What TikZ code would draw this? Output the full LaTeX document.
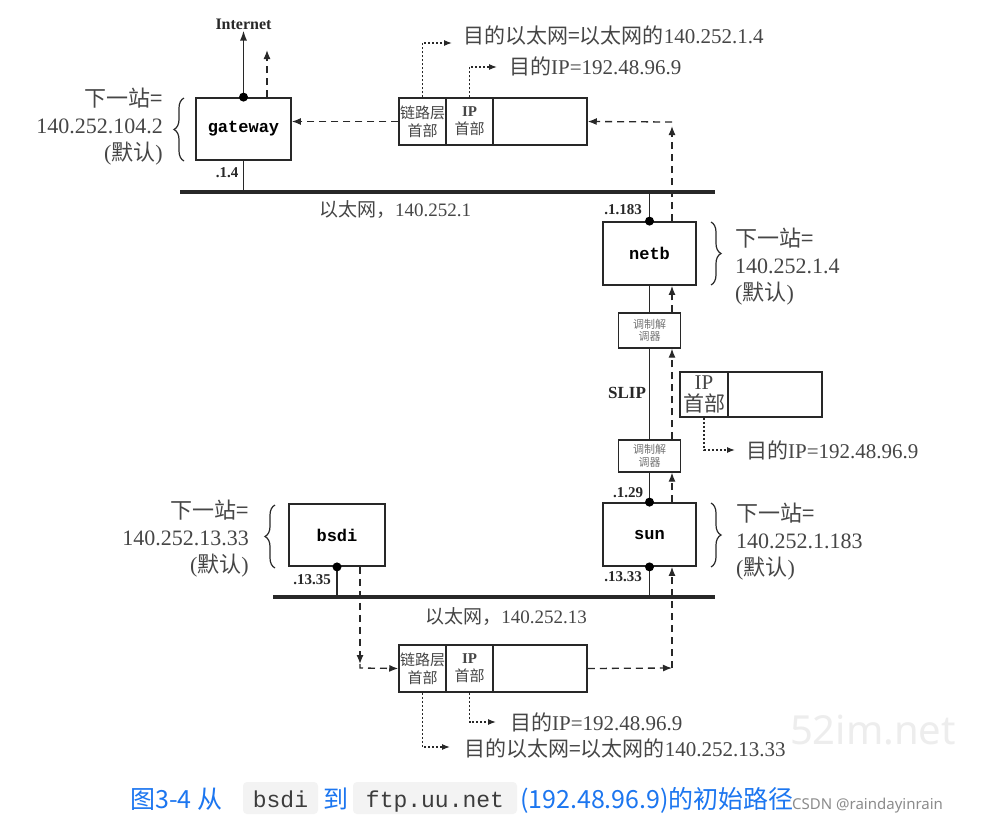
\documentclass[tikz,border=0pt]{standalone}
\usepackage{fontspec}
\setmainfont{Liberation Serif}
\setmonofont{Liberation Mono}
\newfontfamily\cjk{Noto Sans CJK SC}
\newfontfamily\wmfont{Noto Sans}
\usetikzlibrary{arrows.meta,decorations.pathreplacing}
\definecolor{ink}{RGB}{40,40,40}
\definecolor{txt}{RGB}{70,70,70}
\definecolor{capblue}{RGB}{28,118,240}
\definecolor{chipbg}{RGB}{243,243,243}
\definecolor{chiptxt}{RGB}{60,60,60}
\begin{document}
\begin{tikzpicture}[x=1pt,y=-1pt,
 host/.style={draw=ink,line width=1.8pt,fill=white,minimum width=95pt,minimum height=62pt,inner sep=0pt,font=\fontsize{17}{17}\selectfont\ttfamily\bfseries},
 cell/.style={draw=ink,line width=1.5pt,inner sep=0pt,minimum height=47pt,align=center,text=txt,font=\fontsize{15}{18}\selectfont},
 modem/.style={draw=ink,line width=1.3pt,minimum width=62pt,inner sep=0pt,align=center,text=black!55,font=\fontsize{11}{12.5}\selectfont\cjk},
 wire/.style={draw=ink,line width=1.5pt},
 eth/.style={draw=ink,line width=3.5pt},
 dasharrow/.style={draw=ink,line width=1.3pt,dash pattern=on 7pt off 5pt,-{Latex[length=9pt,width=7pt]}},
 dotarrow/.style={draw=ink,line width=1.2pt,dash pattern=on 2pt off 2pt,-{Latex[length=8pt,width=6pt]}},
 jdot/.style={circle,fill=black,inner sep=0pt,minimum size=9pt},
 addr/.style={font=\fontsize{15}{15}\selectfont\bfseries,inner sep=0pt,text=ink},
 lbl/.style={text=txt,inner sep=0pt,font=\fontsize{22}{27}\selectfont},
 dst/.style={text=txt,inner sep=0pt,anchor=west,font=\fontsize{21}{21}\selectfont},
 brc/.style={draw=ink,line width=1.2pt,decorate,decoration={brace,amplitude=10pt}},
 captext/.style={anchor=base west,inner sep=0pt,text=capblue,font=\fontsize{25}{25}\selectfont\cjk},
 chip/.style={fill=chipbg,rounded corners=4pt,minimum height=32pt,inner sep=0pt,text=chiptxt,font=\fontsize{23}{23}\selectfont\ttfamily,text height=20pt,text depth=2pt},
]
\fill[white] (0,0) rectangle (989,828);
\useasboundingbox (0,0) rectangle (989,828);

% faint watermark
\node[text=black!7,font=\fontsize{40}{40}\selectfont\wmfont,inner sep=0pt] (wm) at (873,730) {52im.net};

% ethernets
\coordinate (e1l) at (180,192); \coordinate (e1r) at (715,192);
\coordinate (e2l) at (273,597); \coordinate (e2r) at (715,597);
\draw[eth] (e1l) -- (e1r);
\draw[eth] (e2l) -- (e2r);
\node[text=txt,inner sep=0pt,font=\fontsize{19}{19}\selectfont] (e1lab) at (395,210) {{\cjk 以太网，}140.252.1};
\node[text=txt,inner sep=0pt,font=\fontsize{19}{19}\selectfont] (e2lab) at (506,617) {{\cjk 以太网，}140.252.13};

% hosts
\node[host] (gateway) at (243.5,129) {gateway};
\node[host,minimum width=93pt,minimum height=63pt] (netb) at (649.5,253.5) {netb};
\node[host,minimum width=93pt,minimum height=63pt] (sun) at (649.5,534.5) {sun};
\node[host,minimum width=96pt] (bsdi) at (337,535) {bsdi};

% modems
\node[modem,minimum height=35pt] (m1) at (649.5,330.5) {调制解\\调器};
\node[modem,minimum height=32pt] (m2) at (649.5,456) {调制解\\调器};
\node[font=\fontsize{17}{17}\selectfont\bfseries,text=ink,inner sep=0pt] (slip) at (627,393) {SLIP};

% packets
\node[cell,minimum width=47pt] (p1a) at (422.5,121.5) {{\cjk 链路层}\\{\cjk 首部}};
\node[cell,minimum width=47pt] (p1b) at (469.5,121.5) {\textbf{IP}\\{\cjk 首部}};
\node[cell,minimum width=94pt] (p1c) at (540,121.5) {};
\node[cell,minimum width=47pt] (p2a) at (422.5,668.5) {{\cjk 链路层}\\{\cjk 首部}};
\node[cell,minimum width=47pt] (p2b) at (469.5,668.5) {\textbf{IP}\\{\cjk 首部}};
\node[cell,minimum width=94pt] (p2c) at (540,668.5) {};
\node[cell,minimum width=48pt,minimum height=45pt,font=\fontsize{21}{22}\selectfont] (p3a) at (704,394.5) {IP\\{\cjk 首部}};
\node[cell,minimum width=94pt,minimum height=45pt] (p3c) at (775,394.5) {};

% Internet
\node[font=\fontsize{16}{16}\selectfont\bfseries,text=ink,inner sep=1pt] (inet) at (243.5,24) {Internet};
\draw[wire,-{Latex[length=10pt,width=7pt]}] (gateway.north) -- (inet.south);
\coordinate (gwup) at (267,50);
\draw[dasharrow] (gateway.north -| gwup) -- (gwup);

% solid wiring
\draw[wire] (gateway.south) -- (gateway.south |- e1l);
\draw[wire] (netb.north) -- (netb.north |- e1l);
\draw[wire] (netb.south) -- (m1.north);
\draw[wire] (m1.south) -- (m2.north);
\draw[wire] (m2.south) -- (sun.north);
\draw[wire] (sun.south) -- (sun.south |- e2l);
\draw[wire] (bsdi.south) -- (bsdi.south |- e2l);
\node[jdot] (dgw) at (gateway.north) {};
\node[jdot] (dnb) at (netb.north) {};
\node[jdot] (dsn1) at (sun.north) {};
\node[jdot] (dsn2) at (sun.south) {};
\node[jdot] (dbs) at (bsdi.south) {};

% addresses
\node[addr] (a1) at (227,173) {.1.4};
\node[addr] (a2) at (623,210) {.1.183};
\node[addr] (a3) at (628,493) {.1.29};
\node[addr] (a4) at (623,577) {.13.33};
\node[addr] (a5) at (312,580) {.13.35};

% dashed packet path
\coordinate (bl) at (360,668);
\draw[dasharrow] (bsdi.south -| bl) -- ([yshift=4pt]bl);
\draw[dasharrow] ([yshift=4pt]bl) -- (bl) -- (p2a.west);
\coordinate (br) at (672,668);
\draw[dasharrow] (p2c.east) -- (br);
\draw[dasharrow] (br) -- (sun.south -| br);
\draw[dasharrow] (sun.north -| br) -- (m2.south -| br);
\draw[dasharrow] (m2.north -| br) -- (m1.south -| br);
\draw[dasharrow] (m1.north -| br) -- (netb.south -| br);
\coordinate (tr) at (672,122);
\draw[dasharrow] (netb.north -| tr) -- ([yshift=-4pt]tr);
\draw[dasharrow] (tr) -- (p1c.east);
\draw[dasharrow] (p1a.west) -- (p1a.west -| gateway.east);

% dotted annotations
\coordinate (d1) at (452,43);
\draw[dotarrow] (p1a.north) |- (d1);
\node[dst] (t1) at (463,36) {{\cjk 目的以太网=以太网的}140.252.1.4};
\coordinate (d2) at (497,67);
\draw[dotarrow] (p1b.north) |- (d2);
\node[dst] (t2) at (509,66) {{\cjk 目的}IP=192.48.96.9};
\coordinate (d3) at (735,450);
\draw[dotarrow] (p3a.south) |- (d3);
\node[dst] (t3) at (746,450) {{\cjk 目的}IP=192.48.96.9};
\coordinate (d4) at (496,722);
\draw[dotarrow] (p2b.south) |- (d4);
\node[dst] (t4) at (510,722) {{\cjk 目的}IP=192.48.96.9};
\coordinate (d5) at (450,747);
\draw[dotarrow] (p2a.south) |- (d5);
\node[dst] (t5) at (464,749) {{\cjk 目的以太网=以太网的}140.252.13.33};

% braces and routing labels
\draw[brc] (184,161) -- (184,98);
\node[lbl,anchor=east,align=right] (gwl) at (163,127) {{\cjk 下一站=}\\140.252.104.2\\({\cjk 默认})};
\draw[brc] (711,222) -- (711,285);
\node[lbl,anchor=west,align=left] (nbl) at (735,267) {{\cjk 下一站=}\\140.252.1.4\\({\cjk 默认})};
\draw[brc] (711,503) -- (711,567);
\node[lbl,anchor=west,align=left] (snl) at (736,542) {{\cjk 下一站=}\\140.252.1.183\\({\cjk 默认})};
\draw[brc] (275,568) -- (275,505);
\node[lbl,anchor=east,align=right] (bsl) at (249,539) {{\cjk 下一站=}\\140.252.13.33\\({\cjk 默认})};

% caption
\node[captext] (cap1) at (130,808) {图3-4 从};
\node[chip,minimum width=75pt] (chip1) at (280.5,798) {bsdi};
\node[captext] (cap2) at (323,808) {到};
\node[chip,minimum width=164pt] (chip2) at (435,798) {ftp.uu.net};
\node[captext] (cap3) at (520,808) {(192.48.96.9)的初始路径};
\node[anchor=west,inner sep=0pt,text=black!45,font=\fontsize{15}{15}\selectfont\wmfont] (csdn) at (792,806) {CSDN @raindayinrain};
\end{tikzpicture}
\end{document}
